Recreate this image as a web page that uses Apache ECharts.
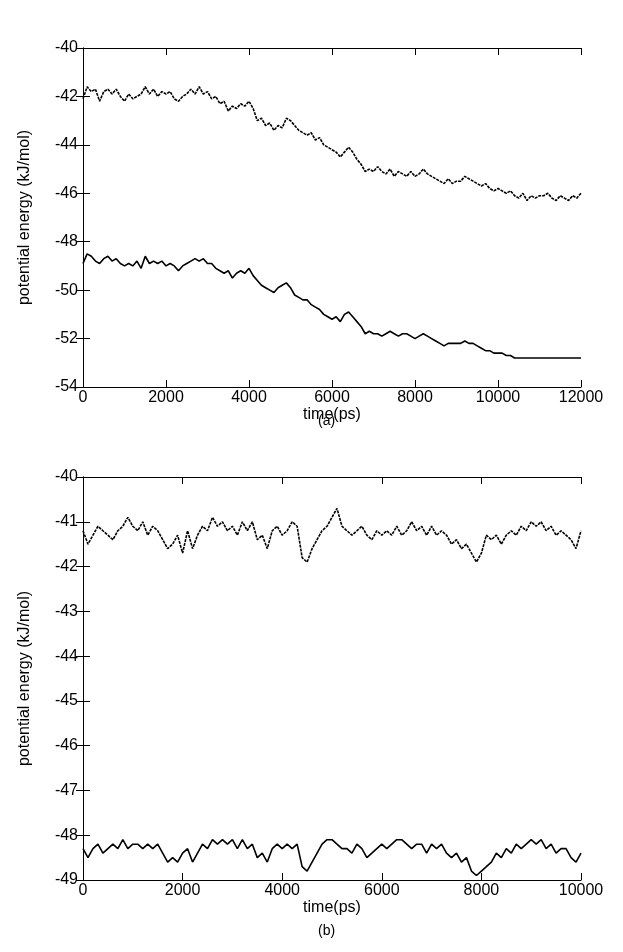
<!DOCTYPE html>
<html>
<head>
<meta charset="utf-8">
<script src="https://cdn.jsdelivr.net/npm/echarts@6/dist/echarts.min.js"></script>
<style>body{margin:0;background:#fff}#c{width:623px;height:952px}</style>
</head>
<body>
<div id="c"></div>
<script>
// panel (a): samples every 100 ps, 0..12000
var stepA = 100;
var upperA = [-42.1,-41.6,-41.8,-41.7,-42.2,-41.8,-41.7,-41.9,-41.7,-42.0,-42.2,
  -41.9,-42.1,-42.0,-41.9,-41.6,-41.9,-41.7,-42.0,-41.8,-41.9,
  -41.8,-42.1,-42.2,-42.0,-41.9,-41.7,-41.9,-41.6,-41.9,-41.8,
  -42.1,-42.0,-42.3,-42.2,-42.6,-42.4,-42.5,-42.3,-42.4,-42.2,
  -42.5,-43.0,-42.9,-43.2,-43.1,-43.4,-43.2,-43.3,-42.9,-43.0,
  -43.2,-43.4,-43.5,-43.6,-43.5,-43.8,-43.7,-44.0,-44.1,-44.2,
  -44.3,-44.5,-44.3,-44.1,-44.3,-44.6,-44.8,-45.1,-45.0,-45.1,
  -44.9,-45.1,-45.2,-45.0,-45.3,-45.1,-45.2,-45.3,-45.1,-45.3,
  -45.2,-45.0,-45.2,-45.3,-45.4,-45.5,-45.6,-45.4,-45.6,-45.5,
  -45.5,-45.3,-45.4,-45.5,-45.6,-45.7,-45.6,-45.8,-45.9,-45.8,
  -45.9,-46.0,-45.9,-46.1,-46.2,-46.0,-46.3,-46.1,-46.2,-46.1,
  -46.1,-46.0,-46.2,-46.3,-46.1,-46.2,-46.3,-46.1,-46.2,-46.0];
var lowerA = [-48.9,-48.5,-48.6,-48.8,-48.9,-48.7,-48.6,-48.8,-48.7,-48.9,-49.0,
  -48.9,-49.0,-48.8,-49.1,-48.6,-48.9,-48.8,-48.9,-48.8,-49.0,
  -48.9,-49.0,-49.2,-49.0,-48.9,-48.8,-48.7,-48.8,-48.7,-48.9,
  -48.9,-49.1,-49.2,-49.3,-49.2,-49.5,-49.3,-49.2,-49.3,-49.1,
  -49.4,-49.6,-49.8,-49.9,-50.0,-50.1,-49.9,-49.8,-49.7,-49.9,
  -50.2,-50.3,-50.4,-50.4,-50.6,-50.7,-50.8,-51.0,-51.1,-51.2,
  -51.1,-51.3,-51.0,-50.9,-51.1,-51.3,-51.5,-51.8,-51.7,-51.8,
  -51.8,-51.9,-51.8,-51.7,-51.8,-51.9,-51.8,-51.8,-51.9,-52.0,
  -51.9,-51.8,-51.9,-52.0,-52.1,-52.2,-52.3,-52.2,-52.2,-52.2,
  -52.2,-52.1,-52.2,-52.2,-52.3,-52.4,-52.5,-52.5,-52.6,-52.6,
  -52.6,-52.7,-52.7,-52.8,-52.8,-52.8,-52.8,-52.8,-52.8,-52.8,
  -52.8,-52.8,-52.8,-52.8,-52.8,-52.8,-52.8,-52.8,-52.8,-52.8];
// panel (b): samples every 100 ps, 0..10000
var stepB = 100;
var upperB = [-41.2,-41.5,-41.3,-41.1,-41.2,-41.3,-41.4,-41.2,-41.1,-40.9,-41.1,
  -41.2,-41.0,-41.3,-41.1,-41.2,-41.4,-41.6,-41.5,-41.3,-41.7,
  -41.2,-41.6,-41.3,-41.1,-41.2,-40.9,-41.1,-41.0,-41.2,-41.1,
  -41.3,-41.0,-41.2,-41.0,-41.4,-41.3,-41.6,-41.2,-41.1,-41.3,
  -41.2,-41.0,-41.1,-41.8,-41.9,-41.6,-41.4,-41.2,-41.1,-40.9,
  -40.7,-41.1,-41.2,-41.3,-41.2,-41.1,-41.3,-41.4,-41.2,-41.3,
  -41.2,-41.3,-41.1,-41.3,-41.2,-41.0,-41.2,-41.1,-41.3,-41.1,
  -41.3,-41.2,-41.3,-41.5,-41.4,-41.6,-41.5,-41.7,-41.9,-41.7,
  -41.3,-41.4,-41.3,-41.5,-41.3,-41.2,-41.3,-41.1,-41.2,-41.0,
  -41.1,-41.0,-41.2,-41.1,-41.3,-41.2,-41.3,-41.4,-41.6,-41.2];
var lowerB = [-48.3,-48.5,-48.3,-48.2,-48.4,-48.3,-48.2,-48.3,-48.1,-48.3,-48.2,
  -48.2,-48.3,-48.2,-48.3,-48.2,-48.4,-48.6,-48.5,-48.6,-48.4,
  -48.3,-48.6,-48.4,-48.2,-48.3,-48.1,-48.2,-48.1,-48.2,-48.1,
  -48.3,-48.1,-48.3,-48.2,-48.5,-48.4,-48.6,-48.3,-48.2,-48.3,
  -48.2,-48.3,-48.2,-48.7,-48.8,-48.6,-48.4,-48.2,-48.1,-48.1,
  -48.2,-48.3,-48.3,-48.4,-48.2,-48.3,-48.5,-48.4,-48.3,-48.2,
  -48.3,-48.2,-48.1,-48.1,-48.2,-48.3,-48.2,-48.2,-48.4,-48.2,
  -48.3,-48.2,-48.4,-48.5,-48.4,-48.6,-48.5,-48.8,-48.9,-48.8,
  -48.7,-48.6,-48.4,-48.5,-48.3,-48.4,-48.2,-48.3,-48.2,-48.1,
  -48.2,-48.1,-48.3,-48.2,-48.4,-48.3,-48.3,-48.5,-48.6,-48.4];

function pairs(arr, step) {
  return arr.map(function (v, i) { return [i * step, v]; });
}

var font = 'Liberation Sans';
var lbl = {color: '#000', fontSize: 16, fontFamily: font};
var line = {show: true, lineStyle: {color: '#000', width: 1}};
var tick = {show: true, inside: true, length: 7, lineStyle: {color: '#000'}};

function xAx(grid, max, interval, showLabel, pos) {
  return {type: 'value', gridIndex: grid, min: 0, max: max, interval: interval, position: pos,
    axisLine: line, axisTick: tick, splitLine: {show: false},
    axisLabel: showLabel ? Object.assign({margin: 3, formatter: function (v) { return String(v); }}, lbl) : {show: false},
    name: showLabel ? 'time(ps)' : '', nameLocation: 'middle', nameGap: 20,
    nameTextStyle: lbl};
}
function yAx(grid, min, max, interval, showLabel, pos) {
  return {type: 'value', gridIndex: grid, min: min, max: max, interval: interval, position: pos,
    axisLine: line, axisTick: tick, splitLine: {show: false},
    axisLabel: showLabel ? Object.assign({margin: 5, formatter: function (v) { return String(v); }}, lbl) : {show: false},
    name: showLabel ? 'potential energy (kJ/mol)' : '', nameLocation: 'middle', nameGap: 50,
    nameTextStyle: lbl};
}
function ser(x, y, data, dashed) {
  return {type: 'line', xAxisIndex: x, yAxisIndex: y, data: data, symbol: 'none', animation: false,
    lineStyle: {color: '#000', width: dashed ? 1.6 : 1.6, type: dashed ? [3, 1] : 'solid'}};
}

var chart = echarts.init(document.getElementById('c'));
chart.setOption({
  backgroundColor: '#fff',
  grid: [
    {left: 83, right: 42, top: 48, height: 339},
    {left: 83, right: 42, top: 477, height: 403}
  ],
  xAxis: [
    xAx(0, 12000, 2000, true, 'bottom'), xAx(0, 12000, 2000, false, 'top'),
    xAx(1, 10000, 2000, true, 'bottom'), xAx(1, 10000, 2000, false, 'top')
  ],
  yAxis: [
    yAx(0, -54, -40, 2, true, 'left'), yAx(0, -54, -40, 2, false, 'right'),
    yAx(1, -49, -40, 1, true, 'left'), yAx(1, -49, -40, 1, false, 'right')
  ],
  graphic: [
    {type: 'text', left: 318, top: 414, style: {text: '(a)', font: '14px ' + font, fill: '#000'}},
    {type: 'text', left: 318, top: 924, style: {text: '(b)', font: '14px ' + font, fill: '#000'}}
  ],
  series: [
    ser(0, 0, pairs(upperA, stepA), true),
    ser(0, 0, pairs(lowerA, stepA), false),
    ser(2, 2, pairs(upperB, stepB), true),
    ser(2, 2, pairs(lowerB, stepB), false)
  ]
});
</script>
</body>
</html>
